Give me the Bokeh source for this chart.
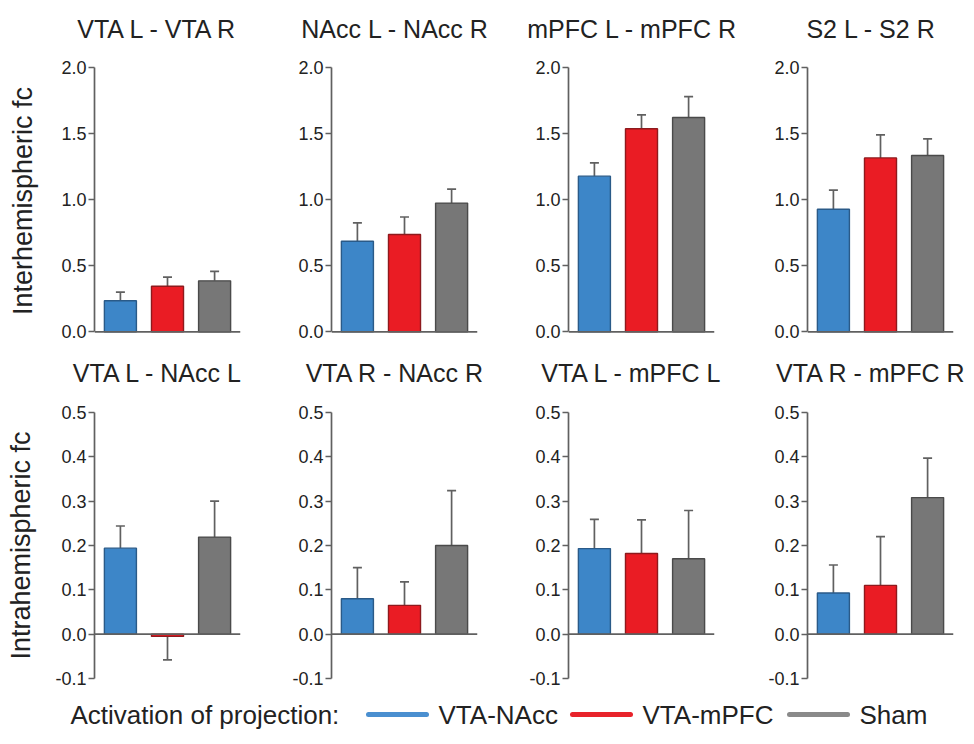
from bokeh.plotting import figure
from bokeh.layouts import column, row
from bokeh.models import Range1d, FixedTicker, PrintfTickFormatter, Span, ColumnDataSource
from bokeh.core.properties import value
from bokeh.embed import file_html
from bokeh.resources import INLINE

# ---------------- data ----------------
groups = ["VTA-NAcc", "VTA-mPFC", "Sham"]
legend_title = "Activation of projection:"

inter_titles = ["VTA L - VTA R", "NAcc L - NAcc R", "mPFC L - mPFC R", "S2 L - S2 R"]
inter_mean = [
    [0.235, 0.345, 0.386],
    [0.686, 0.736, 0.974],
    [1.178, 1.537, 1.622],
    [0.928, 1.316, 1.334],
]
inter_sem = [
    [0.065, 0.069, 0.071],
    [0.138, 0.133, 0.106],
    [0.100, 0.105, 0.158],
    [0.145, 0.174, 0.126],
]
inter_ticks = [0.0, 0.5, 1.0, 1.5, 2.0]
inter_label = "Interhemispheric fc"

intra_titles = ["VTA L - NAcc L", "VTA R - NAcc R", "VTA L - mPFC L", "VTA R - mPFC R"]
intra_mean = [
    [0.194, -0.005, 0.219],
    [0.080, 0.065, 0.200],
    [0.193, 0.182, 0.170],
    [0.093, 0.110, 0.308],
]
intra_sem = [
    [0.050, 0.053, 0.081],
    [0.070, 0.053, 0.124],
    [0.066, 0.076, 0.109],
    [0.063, 0.110, 0.089],
]
intra_ticks = [-0.1, 0.0, 0.1, 0.2, 0.3, 0.4, 0.5]
intra_label = "Intrahemispheric fc"

# ---------------- style / layout ----------------
FONT = "Liberation Sans"
TEXT = "#222222"
AXIS = "#606060"
fills = ["#3d86c8", "#ea1c24", "#777777"]
outlines = ["#2a5a88", "#8e1a1d", "#4a4a4a"]
legend_colors = ["#4a8fd0", "#e8232b", "#8a8a8a"]

col_widths = [246, 238, 238, 250]
col_starts = [0, 246, 484, 722]
frame_lefts = [94, 331, 568, 807]
frame_w = 146
total_w = sum(col_widths)
title_dx = 63.5
strip_h = 44


def make_panel(i, means, sems, yr, bounds, ticks, ylabel, height, bt, bb, label_standoff):
    w = col_widths[i]
    bl = frame_lefts[i] - col_starts[i]
    br = w - bl - frame_w
    p = figure(width=w, height=height, x_range=Range1d(0.45, 3.55), y_range=Range1d(*yr),
               output_backend="svg", toolbar_location=None, x_axis_location=None,
               min_border_left=bl, min_border_right=br, min_border_top=bt, min_border_bottom=bb)
    p.outline_line_color = None
    p.grid.visible = False
    xs = [1, 2, 3]
    ends = [m + (s if m >= 0 else -s) for m, s in zip(means, sems)]
    src = ColumnDataSource(dict(x=xs, top=means, end=ends, fill=fills, line=outlines))
    p.segment(x0="x", y0="top", x1="x", y1="end", source=src, line_color=AXIS, line_width=1.7)
    p.scatter(x="x", y="end", source=src, marker="dash", size=9, line_color=AXIS, line_width=1.7)
    p.vbar(x="x", top="top", bottom=0, width=0.68, source=src, fill_color="fill",
           line_color="line", line_width=1.4)
    p.add_layout(Span(location=0, dimension="width", line_color=AXIS, line_width=1.7))
    ax = p.yaxis[0]
    ax.ticker = FixedTicker(ticks=ticks)
    ax.formatter = PrintfTickFormatter(format="%.1f")
    ax.bounds = bounds
    ax.axis_line_color = AXIS
    ax.axis_line_width = 1.7
    ax.major_tick_line_color = AXIS
    ax.major_tick_line_width = 1.7
    ax.major_tick_out = 6
    ax.major_tick_in = 0
    ax.minor_tick_line_color = None
    ax.major_label_standoff = 2
    ax.major_label_text_font = FONT
    ax.major_label_text_font_size = "18px"
    ax.major_label_text_color = TEXT
    if ylabel:
        ax.axis_label = ylabel
        ax.axis_label_text_font = FONT
        ax.axis_label_text_font_size = "27px"
        ax.axis_label_text_font_style = "normal"
        ax.axis_label_text_color = TEXT
        ax.axis_label_standoff = label_standoff
    return p


def make_strip(titles, y_center):
    s = figure(width=total_w, height=strip_h, x_range=Range1d(0, total_w), y_range=Range1d(strip_h, 0),
               output_backend="svg", toolbar_location=None, x_axis_location=None, y_axis_location=None,
               min_border_left=0, min_border_right=0, min_border_top=0, min_border_bottom=0)
    s.outline_line_color = None
    s.grid.visible = False
    xs = [fl + title_dx for fl in frame_lefts]
    s.text(x=xs, y=[y_center] * len(titles), text=titles, text_font=value(FONT),
           text_font_size=value("25px"), text_color=TEXT, text_align="center", text_baseline="middle")
    return s


top_strip = make_strip(inter_titles, 28)
top = [make_panel(i, inter_mean[i], inter_sem[i], (-0.02, 2.0), (0.0, 2.0), inter_ticks,
                  inter_label if i == 0 else None, 308, 23, 18, 20) for i in range(4)]
bottom_strip = make_strip(intra_titles, 20)
bottom = [make_panel(i, intra_mean[i], intra_sem[i], (-0.1, 0.5), (-0.1, 0.5), intra_ticks,
                     intra_label if i == 0 else None, 296, 16, 14, 16) for i in range(4)]

# ---------------- legend strip ----------------
leg = figure(width=total_w, height=44, x_range=Range1d(0, total_w), y_range=Range1d(0, 44),
             output_backend="svg", toolbar_location=None, x_axis_location=None, y_axis_location=None,
             min_border_left=0, min_border_right=0, min_border_top=0, min_border_bottom=0)
leg.outline_line_color = None
leg.grid.visible = False
title_x = 70
line_x0 = [368, 572, 789]
line_len = 58
text_x = [438, 642, 859]
leg_y = 22
leg.text(x=[title_x], y=[leg_y], text=[legend_title], text_font=value(FONT), text_font_size=value("26px"),
         text_color=TEXT, text_baseline="middle", text_align="left")
leg.segment(x0=line_x0, y0=[leg_y] * 3, x1=[x + line_len for x in line_x0], y1=[leg_y] * 3,
            line_color=legend_colors, line_width=5, line_cap="round")
leg.text(x=text_x, y=[leg_y] * 3, text=groups, text_font=value(FONT), text_font_size=value("26px"),
         text_color=TEXT, text_baseline="middle", text_align="left")

layout = column(top_strip, row(*top), bottom_strip, row(*bottom), leg)
open("out.html", "w").write(file_html(layout, INLINE))
